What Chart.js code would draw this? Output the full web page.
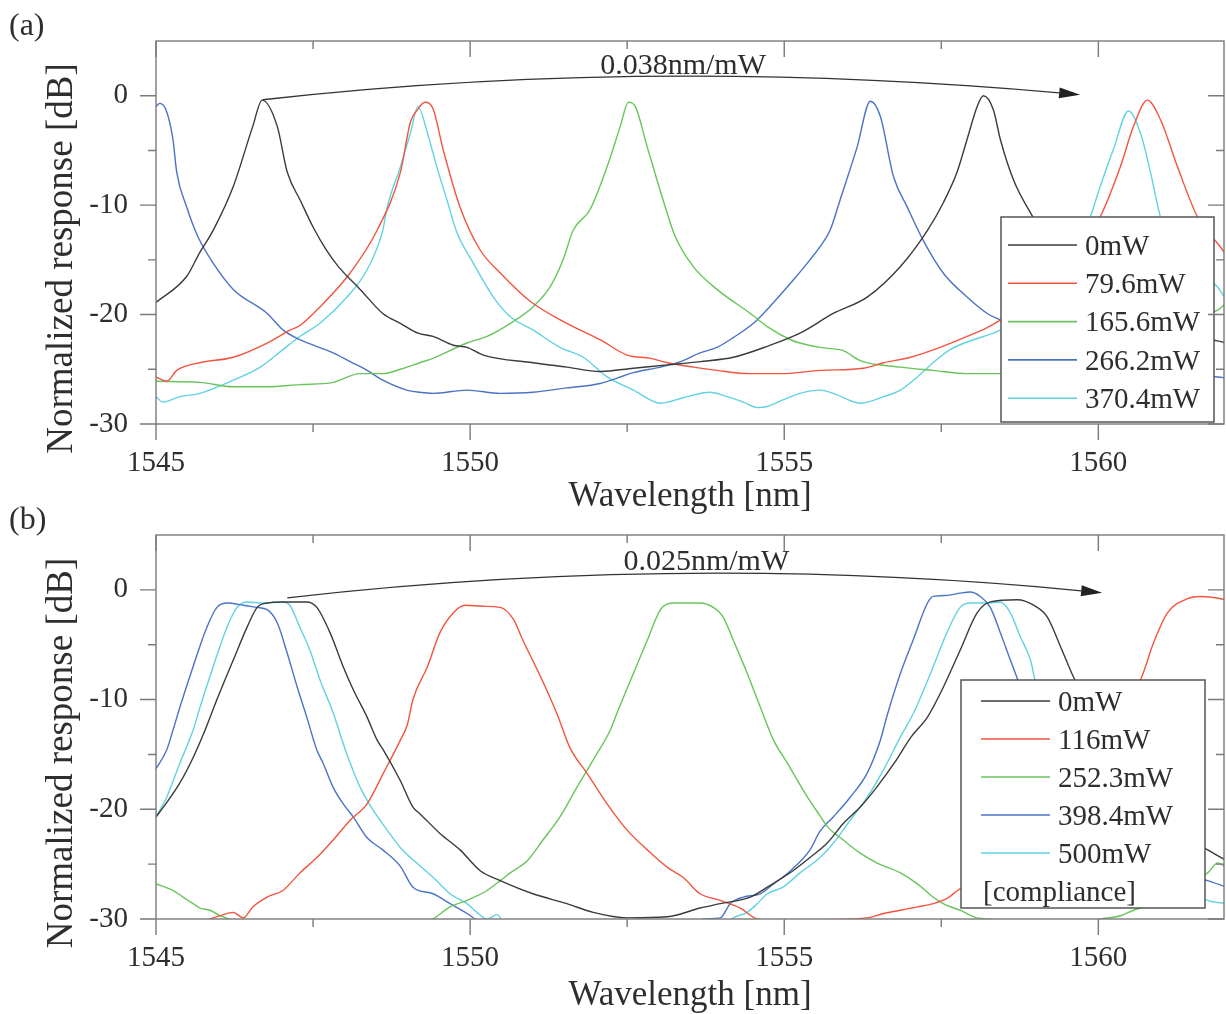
<!DOCTYPE html>
<html>
<head>
<meta charset="utf-8">
<title>Normalized response vs wavelength</title>
<script src="https://cdn.jsdelivr.net/npm/chart.js"></script>
<style>
  html, body { margin: 0; padding: 0; background: #fff; }
  #wrap { position: relative; width: 1226px; height: 1014px; overflow: hidden; }
  canvas { position: absolute; left: 0; }
  #chartA { top: 0; }
  #chartB { top: 494px; }
</style>
</head>
<body>
<div id="wrap">
  <canvas id="chartA" width="1226" height="520"></canvas>
  <canvas id="chartB" width="1226" height="520"></canvas>
</div>
<script>
// axis ranges / ticks
const X_MIN = 1545, X_MAX = 1562;
const Y_MIN = -30, Y_MAX = 5;

// panel (a): heater power sweep, [wavelength nm, response dB]
const LABELS_A = ['0mW', '79.6mW', '165.6mW', '266.2mW', '370.4mW'];
const A_0MW = [
  [1545.00,-18.9],[1545.49,-16.5],[1545.70,-14.3],[1545.91,-12.3],[1546.23,-8.3],[1546.54,-2.8],
  [1546.69,-0.4],[1546.93,-2.8],[1547.09,-7.0],[1547.30,-9.6],[1547.50,-12.0],[1547.70,-14.0],
  [1547.90,-15.6],[1548.25,-17.7],[1548.61,-19.9],[1548.89,-20.8],[1549.17,-21.7],[1549.41,-22.0],[1549.73,-22.8],
  [1549.95,-23.0],[1550.21,-23.7],[1551.00,-24.4],[1551.54,-24.8],[1552.07,-25.2],[1552.60,-24.9],
  [1553.14,-24.6],[1553.66,-24.3],[1554.19,-23.9],[1554.73,-22.9],[1555.25,-21.7],[1555.78,-19.9],
  [1556.32,-18.4],[1556.85,-15.6],[1557.28,-12.3],[1557.53,-9.8],[1557.75,-7.0],[1557.91,-4.0],
  [1558.07,-1.0],[1558.17,0.0],[1558.33,-1.3],[1558.44,-4.0],[1558.65,-7.7],[1558.92,-10.7],
  [1559.40,-15.0],[1560.00,-18.3],[1560.80,-20.6],[1561.60,-22.0],[1562.04,-22.6]
];
const A_79MW = [
  [1545.00,-25.7],[1545.17,-26.1],[1545.33,-25.1],[1545.70,-24.4],[1546.23,-23.9],[1546.77,-22.6],
  [1547.14,-21.4],[1547.29,-21.0],[1547.61,-19.3],[1548.09,-16.2],[1548.52,-12.3],[1548.89,-7.0],
  [1549.05,-2.4],[1549.16,-1.3],[1549.28,-0.6],[1549.41,-1.2],[1549.57,-4.9],[1549.84,-10.2],
  [1550.16,-14.1],[1550.48,-16.2],[1550.96,-18.8],[1551.54,-20.8],[1552.07,-22.3],[1552.50,-23.7],
  [1552.87,-24.0],[1553.14,-24.4],[1553.55,-24.8],[1553.93,-25.1],[1554.46,-25.4],[1554.98,-25.4],
  [1555.57,-25.1],[1556.26,-24.9],[1556.58,-24.4],[1557.01,-23.9],[1557.48,-23.0],[1557.91,-22.0],
  [1558.23,-21.2],[1558.44,-20.5],[1559.00,-18.6],[1559.50,-16.0],[1560.06,-10.7],[1560.35,-6.5],
  [1560.56,-2.8],[1560.78,-0.4],[1560.99,-2.2],[1561.26,-6.5],[1561.58,-11.1],[1561.94,-13.8],
  [1562.04,-14.6]
];
const A_165MW = [
  [1545.00,-26.1],[1545.70,-26.2],[1546.23,-26.6],[1546.77,-26.6],[1547.29,-26.4],[1547.82,-26.2],
  [1548.25,-25.4],[1548.61,-25.4],[1548.89,-25.0],[1549.20,-24.4],[1549.41,-24.0],[1549.95,-22.6],
  [1550.27,-22.0],[1550.64,-20.8],[1551.00,-19.3],[1551.27,-17.5],[1551.48,-15.0],[1551.64,-12.3],
  [1551.91,-10.4],[1552.18,-6.5],[1552.39,-2.8],[1552.52,-0.6],[1552.63,-1.0],[1552.82,-4.7],
  [1553.07,-9.5],[1553.26,-12.8],[1553.55,-15.6],[1553.93,-17.7],[1554.46,-19.9],[1554.73,-21.1],
  [1555.10,-22.3],[1555.25,-22.6],[1555.57,-23.0],[1555.94,-23.3],[1556.21,-24.2],[1556.85,-24.8],
  [1557.37,-25.1],[1557.91,-25.4],[1558.44,-25.4],[1559.20,-24.7],[1560.00,-23.5],[1560.80,-21.8],
  [1561.50,-20.3],[1561.90,-19.6],[1562.04,-18.9]
];
const A_266MW = [
  [1545.00,-1.0],[1545.06,-0.7],[1545.16,-1.3],[1545.27,-4.0],[1545.33,-7.0],[1545.49,-10.2],
  [1545.66,-12.8],[1545.91,-15.3],[1546.23,-17.7],[1546.77,-19.9],[1547.02,-21.4],[1547.29,-22.3],
  [1547.82,-23.5],[1548.09,-24.3],[1548.36,-25.1],[1548.61,-26.0],[1548.99,-26.9],[1549.20,-27.1],
  [1549.41,-27.2],[1549.95,-26.9],[1550.48,-27.2],[1551.00,-27.1],[1551.54,-26.7],[1552.07,-26.3],
  [1552.34,-25.8],[1552.60,-25.3],[1553.03,-24.8],[1553.35,-24.3],[1553.66,-23.5],[1553.93,-23.0],
  [1554.19,-22.1],[1554.51,-20.8],[1554.83,-18.9],[1555.15,-16.8],[1555.41,-15.0],[1555.57,-13.8],
  [1555.73,-12.3],[1555.89,-9.5],[1556.16,-4.7],[1556.37,-0.5],[1556.53,-1.9],[1556.74,-7.4],
  [1556.96,-10.2],[1557.21,-13.2],[1557.53,-16.2],[1557.91,-18.4],[1558.23,-19.9],[1558.44,-20.5],
  [1559.00,-22.3],[1559.80,-23.9],[1560.60,-25.0],[1561.40,-25.5],[1561.90,-25.7],[1562.04,-25.8]
];
const A_370MW = [
  [1545.00,-27.5],[1545.11,-28.0],[1545.38,-27.5],[1545.70,-27.2],[1546.23,-26.0],[1546.66,-24.8],
  [1547.02,-23.2],[1547.29,-22.0],[1547.61,-20.8],[1548.04,-18.4],[1548.36,-15.9],[1548.61,-12.3],
  [1548.68,-10.2],[1548.89,-6.5],[1549.05,-3.4],[1549.17,-1.0],[1549.32,-3.4],[1549.47,-6.5],
  [1549.63,-9.5],[1549.79,-12.5],[1550.05,-15.3],[1550.37,-18.4],[1550.64,-20.2],[1551.00,-21.4],
  [1551.43,-23.0],[1551.80,-23.9],[1552.18,-25.7],[1552.60,-26.9],[1553.03,-28.1],[1553.39,-27.6],
  [1553.82,-27.1],[1554.09,-27.5],[1554.35,-28.0],[1554.57,-28.5],[1554.73,-28.4],[1554.98,-27.8],
  [1555.25,-27.2],[1555.57,-26.9],[1555.78,-27.2],[1556.21,-28.1],[1556.58,-27.5],[1556.85,-26.9],
  [1557.12,-25.7],[1557.37,-24.4],[1557.64,-23.2],[1558.01,-22.3],[1558.33,-21.7],[1558.44,-21.4],
  [1559.00,-19.8],[1559.50,-16.5],[1559.87,-11.1],[1560.03,-8.3],[1560.24,-4.9],[1560.48,-1.4],
  [1560.67,-3.4],[1560.83,-7.0],[1560.99,-11.1],[1561.30,-14.5],[1561.90,-17.5],[1562.04,-18.7]
];

// panel (b): compliance sweep
const LABELS_B = ['0mW', '116mW', '252.3mW', '398.4mW', '500mW'];
const B_0MW = [
  [1545.00,-20.7],[1545.17,-19.4],[1545.38,-17.6],[1545.59,-15.3],[1545.78,-12.8],[1545.97,-10.0],
  [1546.23,-6.4],[1546.45,-3.4],[1546.61,-1.6],[1546.77,-1.2],[1547.02,-1.1],[1547.40,-1.1],
  [1547.56,-1.6],[1547.77,-3.9],[1547.98,-7.0],[1548.14,-9.1],[1548.36,-11.6],[1548.52,-13.7],
  [1548.62,-14.6],[1548.89,-17.4],[1549.09,-19.8],[1549.20,-20.4],[1549.52,-22.2],[1549.84,-23.7],
  [1550.16,-25.6],[1550.48,-26.5],[1551.00,-27.7],[1551.54,-28.6],[1551.96,-29.4],[1552.50,-29.9],
  [1553.14,-29.8],[1553.66,-29.0],[1553.98,-28.6],[1554.46,-28.0],[1554.73,-27.1],[1555.14,-25.6],
  [1555.41,-24.4],[1555.68,-23.1],[1555.94,-21.3],[1556.21,-19.8],[1556.47,-18.0],[1556.75,-15.8],
  [1557.02,-13.4],[1557.28,-11.6],[1557.53,-8.9],[1557.80,-5.5],[1558.07,-2.1],[1558.28,-1.1],
  [1558.71,-0.9],[1558.97,-1.4],[1559.19,-2.5],[1559.40,-5.2],[1559.60,-7.9],[1560.00,-12.5],
  [1560.50,-17.5],[1561.00,-21.0],[1561.50,-23.0],[1561.74,-23.7],[1562.04,-24.7]
];
const B_116MW = [
  [1545.50,-31.0],[1545.81,-30.1],[1546.02,-29.7],[1546.23,-29.4],[1546.39,-29.9],[1546.54,-28.9],
  [1546.77,-28.0],[1547.02,-27.4],[1547.29,-25.8],[1547.56,-24.4],[1547.82,-22.8],[1548.09,-21.0],
  [1548.36,-19.5],[1548.62,-16.7],[1548.89,-13.7],[1549.00,-12.3],[1549.09,-10.0],[1549.32,-7.0],
  [1549.52,-3.9],[1549.73,-2.1],[1549.92,-1.4],[1550.21,-1.5],[1550.48,-1.6],[1550.69,-2.7],
  [1550.84,-4.6],[1551.12,-7.9],[1551.39,-11.4],[1551.59,-14.4],[1551.86,-16.7],
  [1552.18,-19.5],[1552.50,-21.9],[1552.82,-23.7],[1553.14,-25.3],[1553.39,-26.2],[1553.66,-27.7],
  [1553.98,-28.3],[1554.30,-29.0],[1554.57,-30.0],[1555.00,-30.2],[1555.25,-30.1],[1556.32,-29.9],
  [1556.58,-29.5],[1556.85,-29.2],[1557.12,-28.9],[1557.37,-28.6],[1557.60,-28.1],[1557.76,-27.4],
  [1558.30,-25.5],[1559.00,-21.5],[1559.60,-16.5],[1560.20,-11.5],[1560.67,-8.2],[1560.88,-4.8],
  [1561.10,-2.1],[1561.42,-0.8],[1561.62,-0.6],[1561.83,-0.7],[1562.04,-0.9]
];
const B_252MW = [
  [1545.00,-26.8],[1545.27,-27.4],[1545.43,-28.0],[1545.59,-28.6],[1545.70,-29.0],[1545.86,-29.2],
  [1546.02,-29.7],[1546.23,-30.1],[1547.50,-31.5],[1549.00,-31.0],[1549.41,-30.0],[1549.68,-28.9],
  [1549.95,-28.3],[1550.27,-27.4],[1550.48,-26.5],[1550.64,-25.8],[1550.91,-24.7],[1551.16,-22.8],
  [1551.43,-20.7],[1551.70,-18.0],[1551.96,-15.5],[1552.23,-12.8],[1552.34,-11.2],[1552.60,-7.6],
  [1552.82,-4.6],[1553.03,-1.8],[1553.23,-1.2],[1553.46,-1.2],[1553.66,-1.2],[1553.87,-1.6],
  [1554.03,-2.5],[1554.19,-4.6],[1554.41,-7.6],[1554.62,-10.7],[1554.83,-13.7],[1555.05,-15.8],
  [1555.37,-18.9],[1555.57,-20.6],[1555.69,-21.6],[1555.94,-22.8],[1556.21,-24.0],[1556.48,-24.9],
  [1556.85,-25.8],[1557.12,-26.8],[1557.37,-28.0],[1557.53,-28.6],[1557.80,-29.2],[1558.07,-29.9],
  [1558.28,-30.0],[1559.00,-31.0],[1560.03,-30.0],[1560.35,-29.7],[1560.56,-29.2],[1560.88,-28.6],
  [1561.30,-27.0],[1561.74,-25.8],[1561.90,-24.9],[1562.04,-25.3]
];
const B_398MW = [
  [1545.00,-16.3],[1545.17,-14.6],[1545.27,-12.8],[1545.38,-10.7],[1545.59,-7.0],[1545.81,-3.4],
  [1545.97,-1.6],[1546.13,-1.2],[1546.39,-1.4],[1546.61,-1.6],[1546.77,-1.8],[1546.93,-3.0],
  [1547.09,-5.8],[1547.25,-8.9],[1547.40,-11.6],[1547.56,-14.6],[1547.66,-15.8],[1547.82,-18.0],
  [1547.98,-19.5],[1548.14,-20.7],[1548.36,-22.6],[1548.61,-23.7],[1548.89,-25.2],[1549.09,-27.1],
  [1549.41,-27.7],[1549.68,-28.6],[1549.95,-29.5],[1550.11,-30.1],[1550.50,-31.0],[1553.50,-31.0],
  [1553.71,-30.0],[1553.98,-29.9],[1554.14,-28.6],[1554.35,-28.0],[1554.62,-27.7],[1554.83,-26.8],
  [1555.10,-25.6],[1555.41,-23.7],[1555.57,-22.0],[1555.78,-20.7],[1556.05,-18.9],[1556.32,-16.7],
  [1556.53,-13.7],[1556.64,-11.4],[1556.85,-7.6],[1557.05,-4.6],[1557.28,-1.2],[1557.37,-0.6],
  [1557.60,-0.5],[1557.80,-0.3],[1557.96,-0.2],[1558.12,-0.6],[1558.28,-1.6],[1558.44,-3.9],
  [1558.60,-6.4],[1558.73,-8.4],[1559.00,-13.0],[1559.50,-19.0],[1560.00,-23.0],[1561.00,-25.5],
  [1561.74,-26.5],[1562.04,-27.1]
];
const B_500MW = [
  [1545.00,-20.7],[1545.17,-18.9],[1545.38,-15.8],[1545.59,-12.8],[1545.70,-10.7],[1545.91,-7.0],
  [1546.13,-3.4],[1546.29,-1.6],[1546.45,-1.1],[1546.70,-1.2],[1547.02,-1.1],[1547.13,-1.4],
  [1547.29,-3.4],[1547.45,-5.5],[1547.61,-8.2],[1547.82,-11.2],[1547.98,-14.0],[1548.04,-15.0],
  [1548.25,-18.0],[1548.46,-20.1],[1548.68,-21.9],[1548.89,-23.5],[1549.15,-24.9],[1549.41,-26.2],
  [1549.68,-27.7],[1549.95,-28.6],[1550.11,-29.4],[1550.27,-30.0],[1550.43,-29.6],[1550.60,-31.0],
  [1554.00,-31.0],[1554.19,-29.9],[1554.41,-29.4],[1554.57,-28.6],[1554.73,-27.7],[1554.98,-27.1],
  [1555.25,-25.8],[1555.57,-24.4],[1555.78,-23.1],[1556.05,-21.0],[1556.32,-18.9],[1556.58,-16.4],
  [1556.85,-13.4],[1557.06,-11.2],[1557.33,-7.6],[1557.59,-3.9],[1557.80,-1.6],[1557.96,-1.2],
  [1558.23,-1.2],[1558.44,-1.1],[1558.60,-2.1],[1558.76,-4.3],[1558.92,-6.4],[1559.00,-8.4],
  [1559.50,-15.0],[1560.00,-20.5],[1561.00,-26.0],[1561.74,-28.3],[1562.04,-28.6]
];

// annotation: tuning-rate arrows, in data units
const ARROW_A = { from: [1546.70, -0.37], ctrl: [1552.83, 3.61], to: [1559.71, 0.09] };
const ARROW_B = { from: [1547.09, -0.73], ctrl: [1553.43, 3.42], to: [1560.06, -0.27] };
const RATE_A = { text: '0.038nm/mW', at: [1552.07, 2.0] };
const RATE_B = { text: '0.025nm/mW', at: [1552.44, 1.83] };

// styles
const COLORS = ['#3b3b3b', '#f2553f', '#69c45c', '#4a73c5', '#62d2e2'];
const FONT = '"Liberation Serif", "DejaVu Serif", serif';
const TEXT_COLOR = '#2e2e2e';
const AXIS_COLOR = '#7a7a7a';

Chart.defaults.font.family = FONT;
Chart.defaults.color = TEXT_COLOR;

function drawFrame(chart) {
    const { ctx, chartArea: a, scales: { x, y } } = chart;
    ctx.save();
    ctx.strokeStyle = AXIS_COLOR;
    ctx.lineWidth = 1.4;
    ctx.strokeRect(a.left, a.top, a.right - a.left, a.bottom - a.top);
    ctx.beginPath();
    for (let v = X_MIN; v <= X_MAX; v += 2.5) {
        const px = x.getPixelForValue(v);
        const len = v % 5 === 0 ? 16 : 8;
        ctx.moveTo(px, a.bottom); ctx.lineTo(px, a.bottom + len);
        ctx.moveTo(px, a.top); ctx.lineTo(px, a.top + len);
    }
    for (let v = Y_MIN; v < Y_MAX; v += 5) {
        const py = y.getPixelForValue(v);
        const len = v % 10 === 0 ? 16 : 8;
        ctx.moveTo(a.left, py); ctx.lineTo(a.left - len, py);
        ctx.moveTo(a.right, py); ctx.lineTo(a.right - len, py);
    }
    ctx.stroke();
    ctx.restore();
}

function drawArrow(chart, arc) {
    const { ctx, scales: { x, y } } = chart;
    const p0 = [x.getPixelForValue(arc.from[0]), y.getPixelForValue(arc.from[1])];
    const c = [x.getPixelForValue(arc.ctrl[0]), y.getPixelForValue(arc.ctrl[1])];
    const p2 = [x.getPixelForValue(arc.to[0]), y.getPixelForValue(arc.to[1])];
    const ang = Math.atan2(p2[1] - c[1], p2[0] - c[0]);
    const hl = 21, hw = 5.5;
    const bx = p2[0] - hl * Math.cos(ang), by = p2[1] - hl * Math.sin(ang);
    ctx.save();
    ctx.strokeStyle = '#333';
    ctx.lineWidth = 1.3;
    ctx.beginPath();
    ctx.moveTo(p0[0], p0[1]);
    ctx.quadraticCurveTo(c[0], c[1], bx, by);
    ctx.stroke();
    ctx.fillStyle = '#222';
    ctx.beginPath();
    ctx.moveTo(p2[0], p2[1]);
    ctx.lineTo(bx - hw * Math.sin(ang), by + hw * Math.cos(ang));
    ctx.lineTo(bx + hw * Math.sin(ang), by - hw * Math.cos(ang));
    ctx.closePath();
    ctx.fill();
    ctx.restore();
}

function drawLegend(chart, box) {
    const ctx = chart.ctx;
    ctx.save();
    ctx.fillStyle = '#fff';
    ctx.fillRect(box.left, box.top, box.width, box.height);
    ctx.strokeStyle = '#555';
    ctx.lineWidth = 1.5;
    ctx.strokeRect(box.left, box.top, box.width, box.height);
    ctx.font = `29px ${FONT}`;
    ctx.textBaseline = 'middle';
    ctx.textAlign = 'left';
    chart.data.datasets.forEach((ds, i) => {
        const yy = box.top + box.first + i * box.step;
        ctx.strokeStyle = ds.borderColor;
        ctx.lineWidth = 1.6;
        ctx.beginPath();
        ctx.moveTo(box.lineX0, yy);
        ctx.lineTo(box.lineX1, yy);
        ctx.stroke();
        ctx.fillStyle = TEXT_COLOR;
        ctx.fillText(ds.label, box.textX, yy + 2);
    });
    if (box.note) {
        const yy = box.top + box.first + chart.data.datasets.length * box.step;
        ctx.fillStyle = TEXT_COLOR;
        ctx.fillText(box.note, box.noteX, yy + 2);
    }
    ctx.restore();
}

const decor = {
    id: 'decor',
    afterDatasetsDraw(chart, args, opts) {
        const { ctx, chartArea: a, scales: { x, y } } = chart;
        drawLegend(chart, opts.legend);
        drawFrame(chart);
        drawArrow(chart, opts.arrow);

        ctx.save();
        ctx.fillStyle = TEXT_COLOR;
        // rate annotation
        ctx.font = `30px ${FONT}`;
        ctx.textAlign = 'left';
        ctx.textBaseline = 'alphabetic';
        ctx.fillText(opts.rate.text, x.getPixelForValue(opts.rate.at[0]), y.getPixelForValue(opts.rate.at[1]));
        // panel tag
        ctx.font = `32px ${FONT}`;
        ctx.fillText(opts.tag, 9, 35);
        // x axis title
        ctx.font = `35px ${FONT}`;
        ctx.textAlign = 'center';
        ctx.fillText('Wavelength [nm]', (a.left + a.right) / 2, opts.xTitleBase);
        // y axis title
        ctx.translate(62, (a.top + a.bottom) / 2 + 26);
        ctx.rotate(-Math.PI / 2);
        ctx.font = `37px ${FONT}`;
        ctx.textBaseline = 'middle';
        ctx.fillText('Normalized response [dB]', 0, 0);
        ctx.restore();
    }
};

function makeChart(canvasId, series, labels, xAxisHeight, extra) {
    return new Chart(document.getElementById(canvasId), {
        type: 'line',
        data: {
            datasets: series.map((pts, i) => ({
                label: labels[i],
                data: pts.map(p => ({ x: p[0], y: p[1] })),
                borderColor: COLORS[i],
                borderWidth: 1.4,
                pointRadius: 0,
                cubicInterpolationMode: 'monotone',
                fill: false
            }))
        },
        options: {
            responsive: false,
            animation: false,
            devicePixelRatio: 1,
            layout: { autoPadding: false, padding: { left: 0, top: 41, right: 2, bottom: 0 } },
            plugins: {
                legend: { display: false },
                tooltip: { enabled: false },
                decor: extra
            },
            scales: {
                x: {
                    type: 'linear',
                    min: X_MIN,
                    max: X_MAX,
                    afterFit: s => { s.height = xAxisHeight; s.paddingLeft = 0; s.paddingRight = 0; },
                    grid: { drawOnChartArea: false, drawTicks: false },
                    border: { display: false },
                    ticks: {
                        stepSize: 5,
                        includeBounds: false,
                        autoSkip: false,
                        maxRotation: 0,
                        padding: 22,
                        font: { size: 29 },
                        color: TEXT_COLOR,
                        callback: v => String(v)
                    }
                },
                y: {
                    min: Y_MIN,
                    max: Y_MAX,
                    afterFit: s => { s.width = 156; s.paddingTop = 0; s.paddingBottom = 0; },
                    grid: { drawOnChartArea: false, drawTicks: false },
                    border: { display: false },
                    ticks: {
                        stepSize: 10,
                        includeBounds: false,
                        padding: 28,
                        font: { size: 29 },
                        color: TEXT_COLOR,
                        callback: v => String(v)
                    }
                }
            }
        },
        plugins: [decor]
    });
}

makeChart('chartA', [A_0MW, A_79MW, A_165MW, A_266MW, A_370MW], LABELS_A, 96, {
    tag: '(a)',
    arrow: ARROW_A,
    rate: RATE_A,
    xTitleBase: 506,
    legend: { left: 1001, top: 217, width: 213, height: 205, first: 28, step: 38.3,
              lineX0: 1008, lineX1: 1077, textX: 1085 }
});

makeChart('chartB', [B_0MW, B_116MW, B_252MW, B_398MW, B_500MW], LABELS_B, 95, {
    tag: '(b)',
    arrow: ARROW_B,
    rate: RATE_B,
    xTitleBase: 511,
    legend: { left: 961, top: 186, width: 244, height: 228, first: 21, step: 38,
              lineX0: 981, lineX1: 1050, textX: 1058, note: '[compliance]', noteX: 983 }
});
</script>
</body>
</html>
